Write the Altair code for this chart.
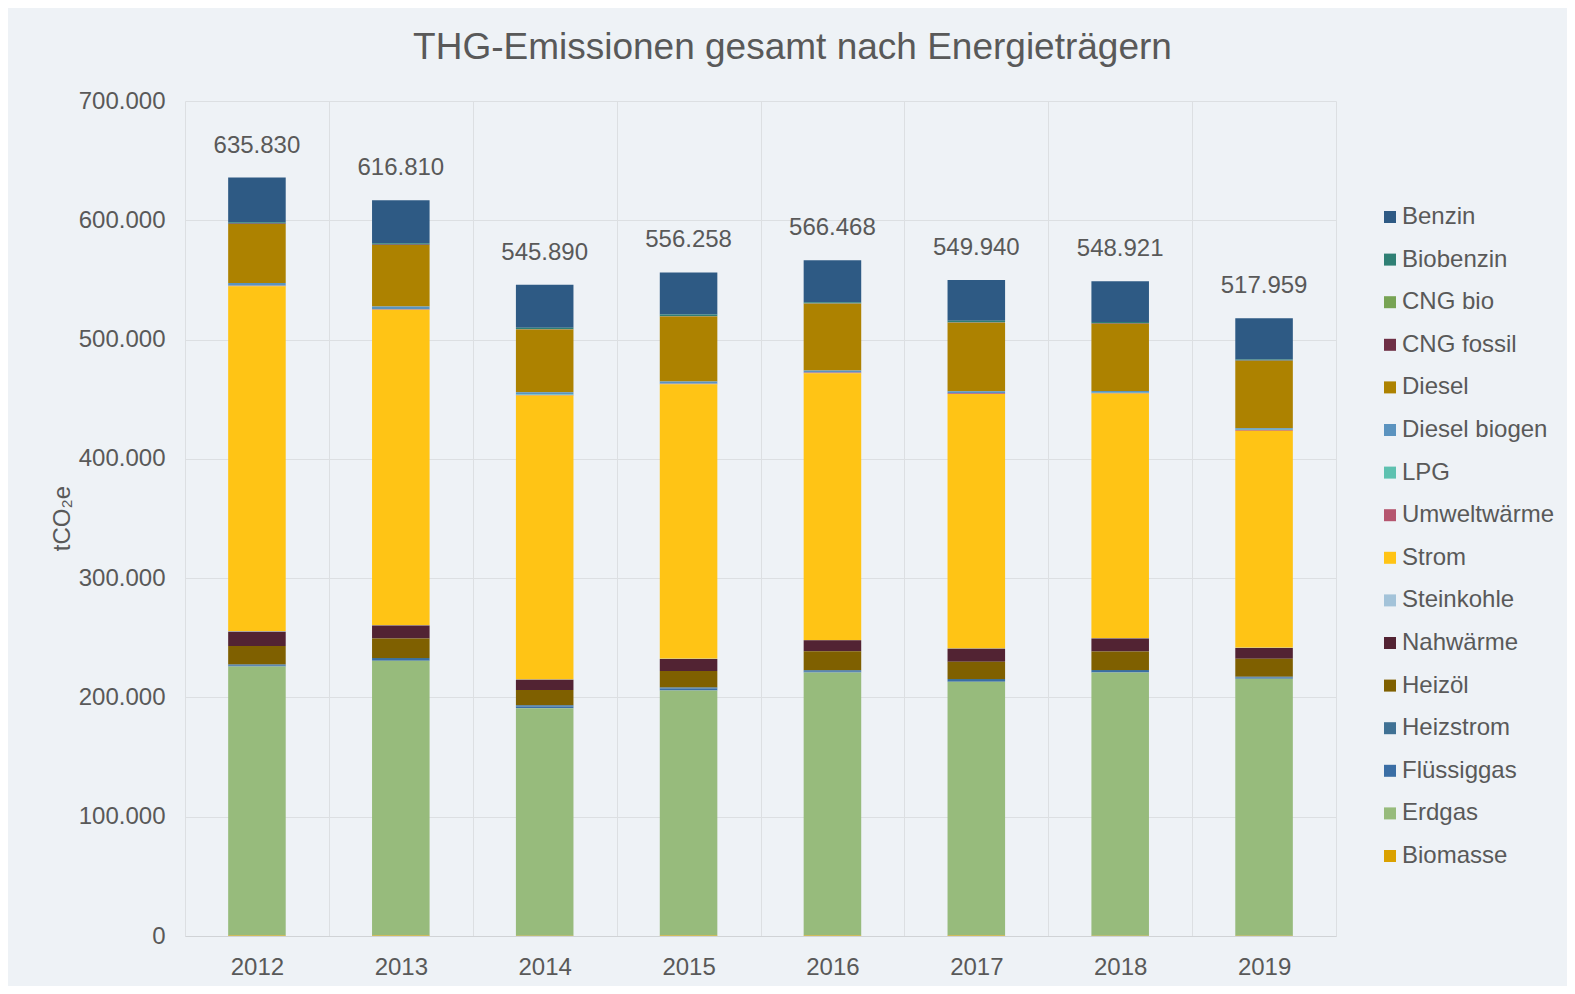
import altair as alt
import pandas as pd

years = ["2012", "2013", "2014", "2015", "2016", "2017", "2018", "2019"]

# legend order (top to bottom); stacking is the reverse (Biomasse at the bottom)
categories = ["Benzin", "Biobenzin", "CNG bio", "CNG fossil", "Diesel", "Diesel biogen",
              "LPG", "Umweltwärme", "Strom", "Steinkohle", "Nahwärme", "Heizöl",
              "Heizstrom", "Flüssiggas", "Erdgas", "Biomasse"]
colors = ["#2E5A84", "#2E7F74", "#77A354", "#6E2F45", "#AD8200", "#5B93BF",
          "#5EC1B0", "#B5566F", "#FFC415", "#A3C3D9", "#522333", "#7F6000",
          "#3F7194", "#3A6EA5", "#97BB7C", "#DAA100"]

benzin = [37500, 36000, 36000, 35200, 35200, 34100, 34100, 34700]
biobenzin = [1000, 1100, 1100, 1400, 900, 1400, 1100, 700]
cng_bio = [100, 100, 100, 100, 100, 100, 100, 100]
cng_fossil = [300, 300, 300, 300, 300, 300, 300, 300]
diesel = [49500, 51600, 52500, 54500, 55900, 57300, 56400, 56400]
diesel_biogen = [2000, 2000, 2000, 1500, 1500, 1500, 1400, 1400]
lpg = [300, 300, 300, 250, 250, 250, 250, 250]
umweltwaerme = [450, 480, 500, 520, 540, 560, 580, 600]
strom = [289230, 264390, 237990, 230068, 223748, 213410, 205181, 181809]
steinkohle = [300, 300, 200, 200, 200, 200, 200, 200]
nahwaerme = [12000, 10900, 8700, 10000, 9200, 10900, 10900, 9000]
heizoel = [15600, 16200, 12800, 14000, 15900, 14500, 15400, 15100]
heizstrom = [600, 900, 900, 800, 700, 800, 800, 600]
fluessiggas = [1100, 1400, 1600, 1700, 1200, 1400, 1400, 1100]
erdgas = [225500, 230500, 190600, 205400, 220500, 212900, 220500, 215400]
biomasse = [350, 340, 300, 320, 330, 320, 310, 300]

totals = [635830, 616810, 545890, 556258, 566468, 549940, 548921, 517959]

series = [benzin, biobenzin, cng_bio, cng_fossil, diesel, diesel_biogen, lpg,
          umweltwaerme, strom, steinkohle, nahwaerme, heizoel, heizstrom,
          fluessiggas, erdgas, biomasse]

rows = []
for i, (cat, vals) in enumerate(zip(categories, series)):
    for y, v in zip(years, vals):
        rows.append({"Jahr": y, "Energieträger": cat, "Wert": v,
                     "Stapel": len(categories) - 1 - i})
df = pd.DataFrame(rows)

df_tot = pd.DataFrame({"Jahr": years, "Total": totals,
                       "Label": [f"{t:,}".replace(",", ".") for t in totals]})

FONT = "Liberation Sans"
TXT = "#595959"
FS = 24

x_scale = alt.Scale(paddingInner=0, paddingOuter=0)
x_enc = alt.X("Jahr:N", sort=years, scale=x_scale,
              axis=alt.Axis(title=None, labelAngle=0, ticks=False, tickBand="extent",
                            grid=True, gridColor="#DCDFE2", domain=True,
                            domainColor="#D0D3D6", labelPadding=19,
                            labelFontSize=FS, labelColor=TXT, labelFont=FONT))

y_scale = alt.Scale(domain=[0, 700000], nice=False)

bars = alt.Chart(df).mark_bar(width=alt.RelativeBandSize(0.4)).encode(
    x=x_enc,
    y=alt.Y("Wert:Q", stack="zero", scale=y_scale,
            axis=alt.Axis(values=list(range(0, 700001, 100000)),
                          labelExpr="replace(format(datum.value, ',.0f'), ',', '.')",
                          title="tCO₂e", titleFontSize=FS, titleFont=FONT,
                          titleFontWeight="normal", titleColor=TXT,
                          titleX=-123, titleY=417, titleAlign="center",
                          titleBaseline="middle", titleAngle=270,
                          ticks=False, domain=False, grid=True, gridColor="#DCDFE2",
                          labelPadding=20, labelFontSize=FS, labelColor=TXT,
                          labelFont=FONT)),
    color=alt.Color("Energieträger:N",
                    scale=alt.Scale(domain=categories, range=colors),
                    legend=alt.Legend(title=None, orient="none", legendX=1193,
                                      legendY=104, symbolType="square",
                                      symbolSize=144, symbolStrokeWidth=0,
                                      labelFontSize=FS, labelColor=TXT,
                                      labelFont=FONT, rowPadding=18.6,
                                      labelOffset=0, padding=0)),
    order=alt.Order("Stapel:Q", sort="ascending"),
)

labels = alt.Chart(df_tot).mark_text(
    dy=-32, fontSize=FS, font=FONT, color=TXT
).encode(
    x=alt.X("Jahr:N", sort=years, scale=x_scale),
    y=alt.Y("Total:Q", scale=y_scale),
    text="Label:N",
)

chart = alt.layer(bars, labels).properties(
    width=1151, height=835,
    title=alt.TitleParams("THG-Emissionen gesamt nach Energieträgern", fontSize=37,
                          font=FONT, fontWeight="normal", color=TXT,
                          anchor="middle", dx=32, offset=22),
    autosize=alt.AutoSizeParams(type="none"),
    padding={"left": 177, "top": 93, "right": 231, "bottom": 50},
).configure(background="#EEF2F6").configure_view(strokeWidth=0)

chart.save("out.html", embed_options={"renderer": "svg", "actions": False})
